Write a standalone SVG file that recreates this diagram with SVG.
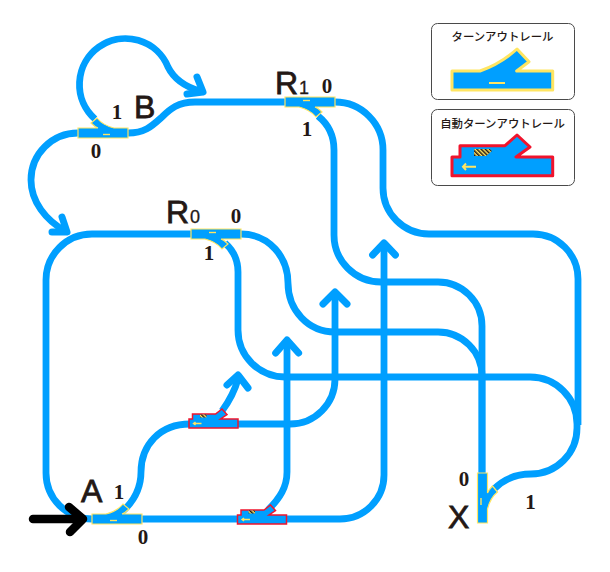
<svg xmlns="http://www.w3.org/2000/svg" width="610" height="572" viewBox="0 0 610 572">
<style>
.track{fill:none;stroke:#009fff;stroke-width:6.8}
.head{fill:none;stroke:#009fff;stroke-width:7;stroke-linecap:round;stroke-linejoin:round}
.sw{fill:#009fff;stroke:#ffe562;stroke-width:1.2}
.auto{fill:#009fff;stroke:#f0142d;stroke-width:1.5}
.dash{stroke:#ffe562;stroke-width:1.4;fill:none}
.big{font-family:"Liberation Sans",Arial,sans-serif;font-size:32px;fill:#231815;stroke:#231815;stroke-width:.8}
.small{font-family:"Liberation Sans",Arial,sans-serif;font-size:18px;fill:#231815;stroke:#231815;stroke-width:.3}
.num{font-family:"Liberation Serif","Times New Roman",serif;font-weight:bold;font-size:21px;fill:#231815;text-anchor:middle}
.title{font-family:"Noto Sans CJK JP",sans-serif;font-weight:500;font-size:11.4px;fill:#231815;text-anchor:middle}
.box{fill:#fff;stroke:#4a4a4a;stroke-width:1}
</style>
<defs>
<pattern id="hatch" width="3" height="3" patternUnits="userSpaceOnUse" patternTransform="rotate(-45)">
<rect width="3" height="3" fill="#ffe562"/><rect width="1.500" height="3" fill="#231815"/>
</pattern>
<g id="turnout">
<path class="sw" d="M-25,-5H-11C-3,-7 2,-10 6,-15L12,-10C10,-8 8,-6 5,-5H25V5H-25Z"/>
<path class="dash" d="M-7,1.500H0"/>
</g>
<g id="autoTurnout">
<path class="auto" d="M-24.500,-4.500H-21V-9.500H2L8.500,-14.500L13.500,-9L7,-4.500H24.500V4.500H-24.500Z"/>
<path d="M-13.500,-9H-7V-6H-13.500Z" fill="url(#hatch)"/>
<path class="dash" d="M-20,0H-12M-18,-1.500L-20,0L-18,1.500"/>
</g>
</defs>

<g id="connectors">
<path class="track" d="M78,133A47,47 0 0 0 31,180C31,202 46,220 65,231"/>
<path class="head" d="M62,217L67,232L52,232"/>
<path class="track" d="M95,119A46,46 0 1 1 168,67C174,79 186,87 200,91"/>
<path class="head" d="M197,77L203,92L187,94"/>
<path class="track" d="M128,133C145,133 152,126 162,117C170,109 178,102 195,102H285"/>
<path class="track" d="M335,102A48,48 0 0 1 383,150V188A46,46 0 0 0 429,234H533A45,45 0 0 1 578,279V425"/>
<path class="track" d="M318,116C328,124 334,136 334,150V235A47,47 0 0 0 381,282H438A44,44 0 0 1 482,326V480"/>
<path class="track" d="M92,234H191M46,280A46,46 0 0 1 92,234M46,280V473A46,46 0 0 0 92,519"/>
<path class="track" d="M241,234C270,234 288,258 288,283C288,310 308,332 335,332H438A44,44 0 0 1 482,376V480"/>
<path class="track" d="M225,243C233,250 238,260 238,272V330A47,47 0 0 0 285,377H530A47,47 0 0 1 577,424V428A46,46 0 0 1 531,474C515,474 503,480 494,489"/>
<path class="track" d="M141,519H340A44,44 0 0 0 384,475V247"/>
<path class="head" d="M372.600,255L384,243L395.400,255"/>
<path class="track" d="M122,512C132,503 141,490 141,472C141,445 160,424 190,424"/>
<path class="track" d="M238,424H290A45,45 0 0 0 335,379V296"/>
<path class="head" d="M323,304L335,292L347,304"/>
<path class="track" d="M287,345V472C287,487 280,498 268,510"/>
<path class="head" d="M275.700,353L287,340L298.600,353"/>
<path class="track" d="M222,411C230,400 235,390 238,379"/>
<path class="head" d="M227,385L238,375L248,388"/>
<path d="M33,519H80" fill="none" stroke="#000" stroke-width="8.500" stroke-linecap="round"/>
<path d="M69,507L83,519L70,532" fill="none" stroke="#000" stroke-width="8.500" stroke-linecap="round" stroke-linejoin="round"/>
</g>

<g id="node-A">
<use href="#turnout" transform="translate(117,519)"/>
<text class="big" x="81" y="502">A</text>
<text class="num" x="119" y="499">1</text>
<text class="num" x="143" y="544">0</text>
</g>
<g id="node-B">
<use href="#turnout" transform="translate(103,133) scale(-1,1)"/>
<text class="big" x="134" y="118">B</text>
<text class="num" x="117" y="119">1</text>
<text class="num" x="96" y="158">0</text>
</g>
<g id="node-R1">
<use href="#turnout" transform="translate(310,102) scale(1,-1)"/>
<text class="big" x="275" y="94">R</text>
<text class="small" x="299" y="94">1</text>
<text class="num" x="327" y="93">0</text>
<text class="num" x="307" y="136">1</text>
</g>
<g id="node-R0">
<use href="#turnout" transform="translate(216,234) scale(1,-1)"/>
<text class="big" x="166" y="223">R</text>
<text class="small" x="190" y="223">0</text>
<text class="num" x="236" y="223">0</text>
<text class="num" x="209" y="260">1</text>
</g>
<g id="node-X">
<use href="#turnout" transform="translate(482.500,498) rotate(-90) scale(1,-1)"/>
<text class="big" x="448" y="528">X</text>
<text class="num" x="464" y="486">0</text>
<text class="num" x="530.500" y="509">1</text>
</g>
<g id="node-auto1">
<use href="#autoTurnout" transform="translate(213.500,423.500)"/>
</g>
<g id="node-auto2">
<use href="#autoTurnout" transform="translate(262,519.500)"/>
</g>

<g id="legend-turnout">
<rect class="box" x="431.500" y="23.500" width="143" height="76" rx="6"/>
<text class="title" x="502.500" y="41">ターンアウトレール</text>
<path d="M452,71H480C494,66 507,58 517,49L529,61.700L516.700,71H552.700V90H452Z" fill="#009fff" stroke="#ffe562" stroke-width="3" stroke-linejoin="round"/>
<path d="M489,83H505" stroke="#ffe562" stroke-width="2" fill="none"/>
</g>
<g id="legend-auto">
<rect class="box" x="431.500" y="109.500" width="143" height="76" rx="6"/>
<text class="title" x="502.500" y="128">自動ターンアウトレール</text>
<path d="M452,157H460V145.700H505L517,135L530,147L516,157H552.700V175.700H452Z" fill="#009fff" stroke="#f0142d" stroke-width="3" stroke-linejoin="round"/>
<path d="M474,149H490L492,151L486,156H474Z" fill="url(#hatch)"/>
<path d="M463,166.700H476M466,163.500L463,166.700L466,170" stroke="#ffe562" stroke-width="2" fill="none"/>
</g>
</svg>
